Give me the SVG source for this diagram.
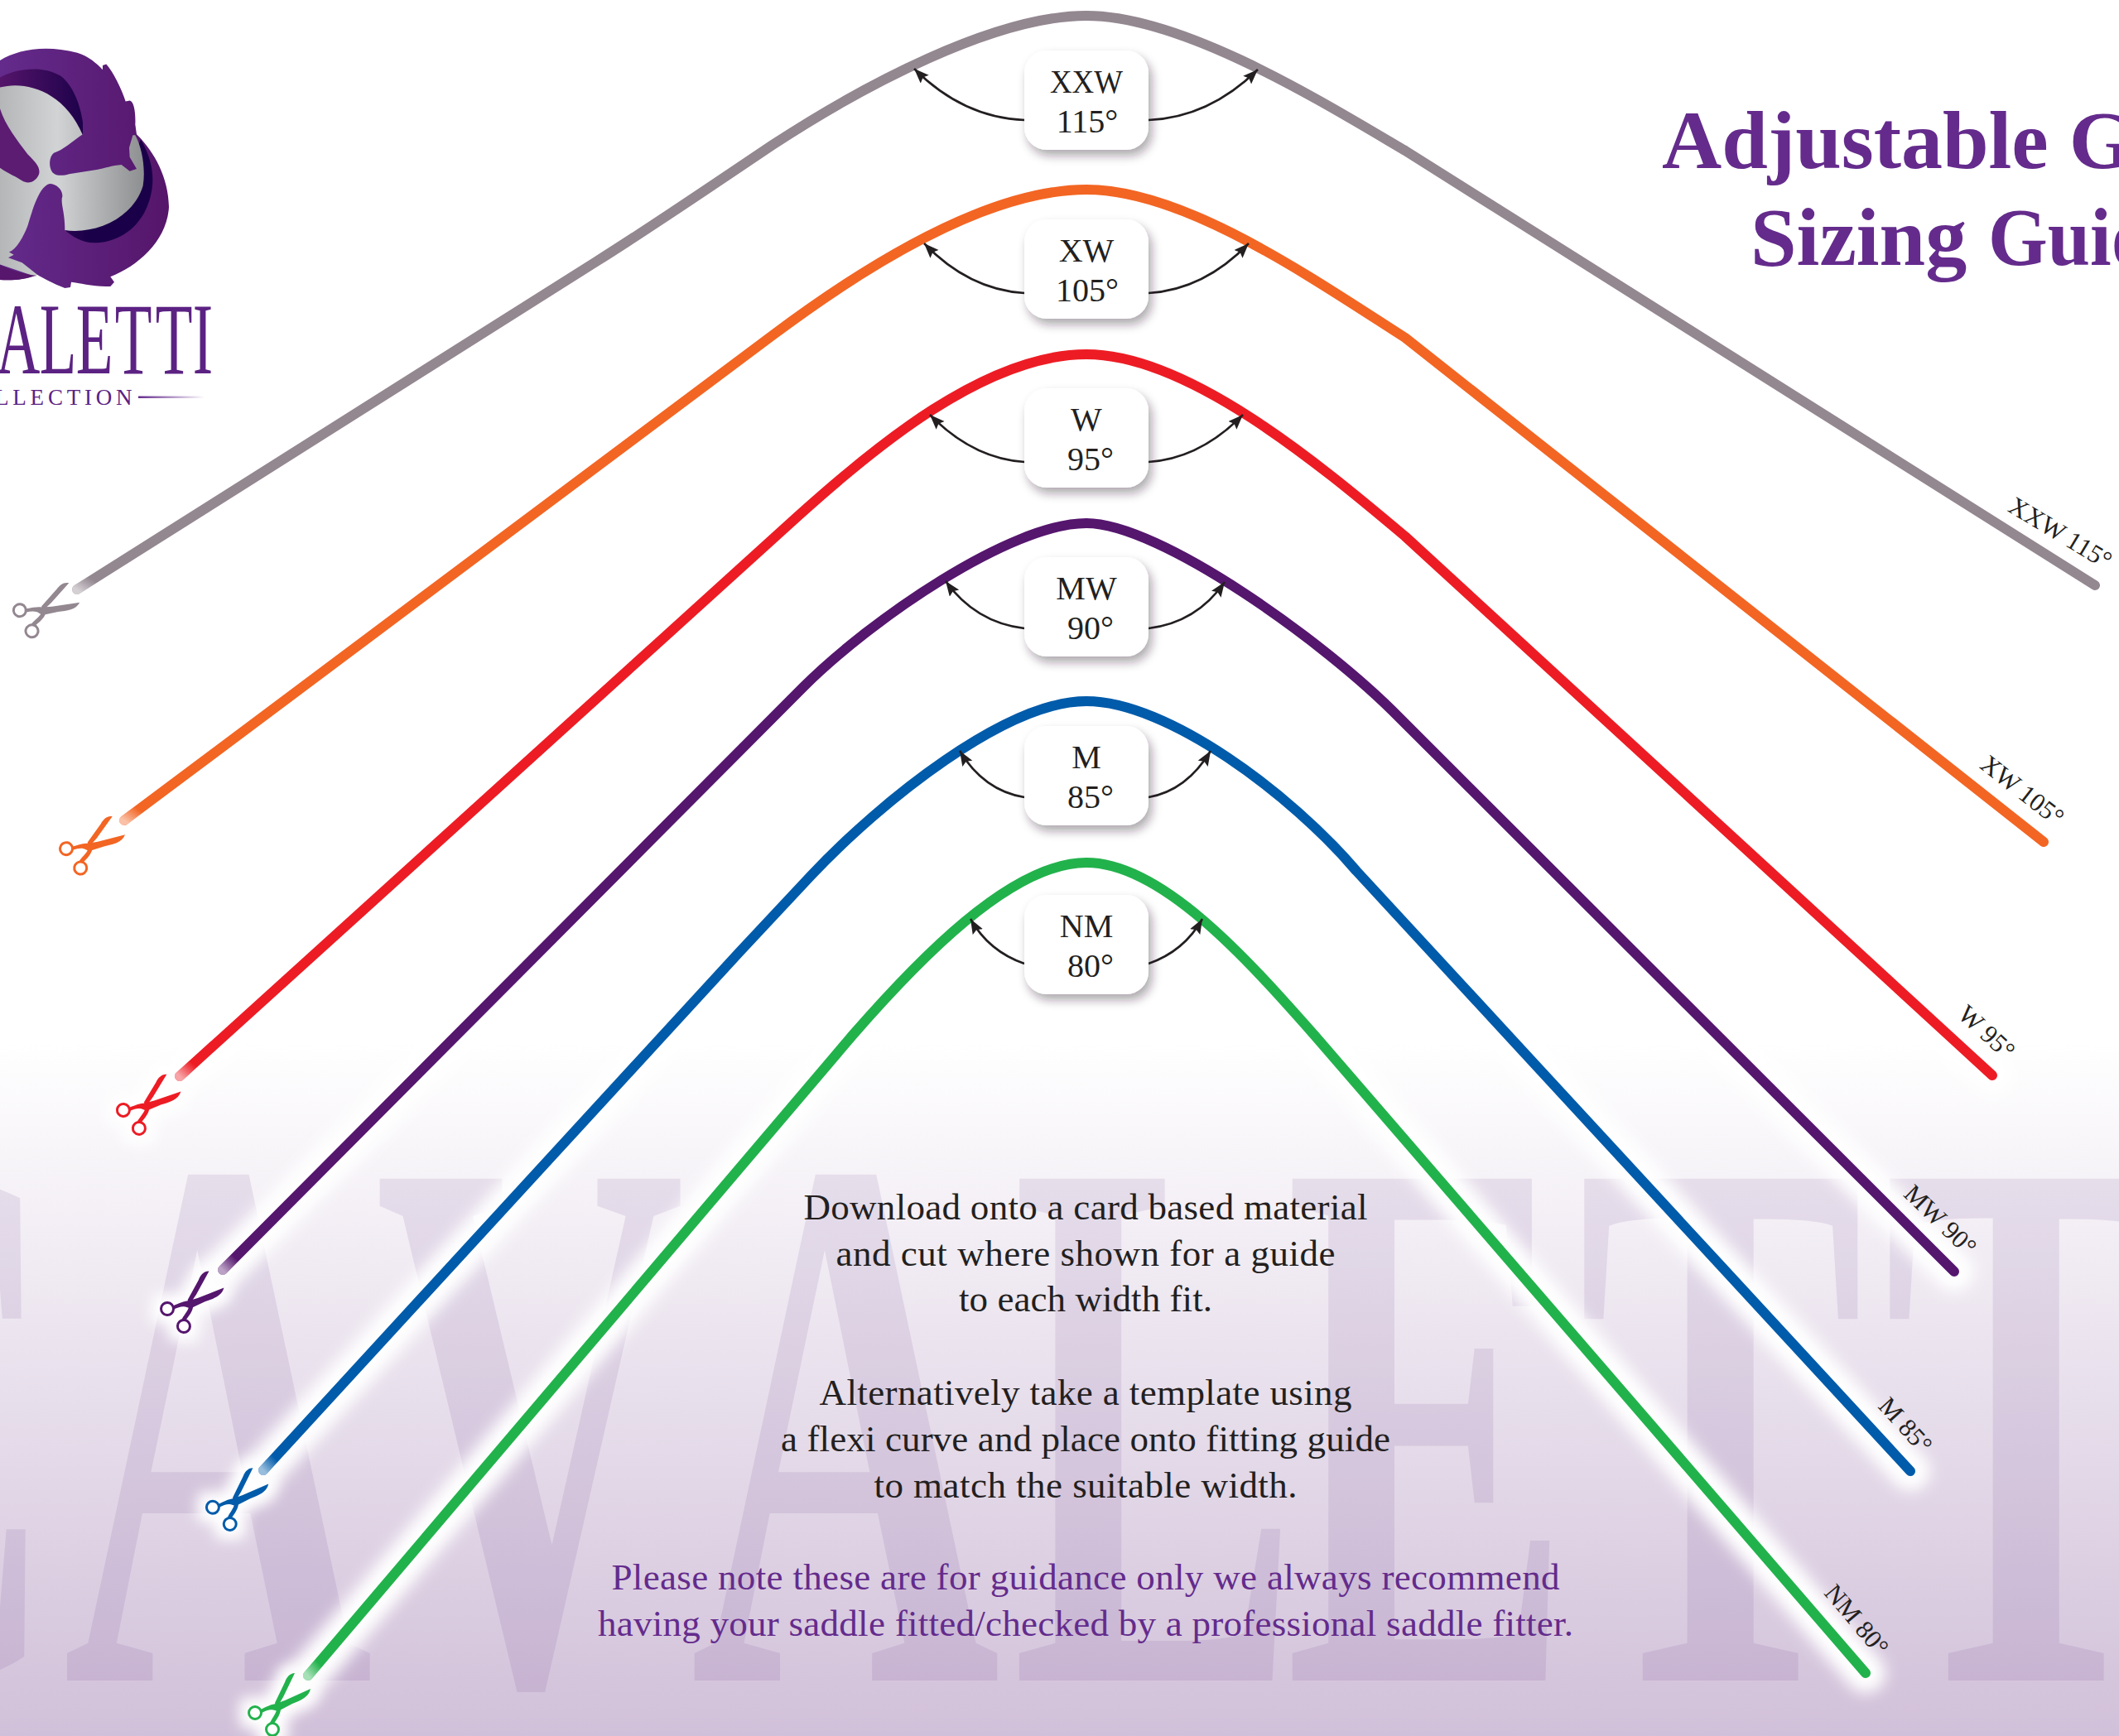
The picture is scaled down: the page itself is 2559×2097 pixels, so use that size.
<svg xmlns="http://www.w3.org/2000/svg" xmlns:xlink="http://www.w3.org/1999/xlink" width="2559" height="2097" viewBox="0 0 2559 2097">
<style>
text{font-family:"Liberation Serif",serif}
.w{fill:none;stroke-linecap:round;stroke-linejoin:round;stroke-width:12}
.glow{fill:none;stroke:#fff;stroke-width:48;stroke-linecap:round;stroke-linejoin:round}
.arr{fill:none;stroke:#231f20;stroke-width:2.6;marker-end:url(#ah)}
.box{fill:#fff;filter:url(#sh)}
.bt{font-size:40px;fill:#231f20;text-anchor:middle}
.end{font-size:31px;fill:#231f20;text-anchor:middle}
.body{font-size:45px;fill:#231f20;text-anchor:middle}
.note{font-size:45px;fill:#642b8c;text-anchor:middle}
.title{font-size:100px;font-weight:bold;fill:#642b8c}
.lg{font-size:122px;fill:#5c2283;text-anchor:middle}
.fade{fill:none;stroke:url(#fd);stroke-width:12;stroke-linecap:round}
</style>
<defs>
<linearGradient id="bg" x1="0" y1="1260" x2="0" y2="2097" gradientUnits="userSpaceOnUse"><stop offset="0" stop-color="#fff"/><stop offset="1" stop-color="#d1c0d9"/></linearGradient>
<linearGradient id="fd" x1="0" y1="1" x2="1" y2="0"><stop offset="0" stop-color="#fff" stop-opacity=".6"/><stop offset="1" stop-color="#fff" stop-opacity="0"/></linearGradient>
<linearGradient id="lp" x1="0" y1="0" x2="612" y2="0" gradientUnits="userSpaceOnUse"><stop offset="0" stop-color="#642b8c"/><stop offset="1" stop-color="#55156a"/></linearGradient>
<linearGradient id="lg" x1="0" y1="0" x2="520" y2="0" gradientUnits="userSpaceOnUse"><stop offset="0" stop-color="#b4b6b8"/><stop offset=".4" stop-color="#d1d3d4"/><stop offset="1" stop-color="#8d8f91"/></linearGradient>
<linearGradient id="ln" x1="0" y1="0" x2="320" y2="0" gradientUnits="userSpaceOnUse"><stop offset="0" stop-color="#55156a"/><stop offset="1" stop-color="#1a0048"/></linearGradient>
<linearGradient id="lr" x1="167" y1="0" x2="247" y2="0" gradientUnits="userSpaceOnUse"><stop offset="0" stop-color="#642b8c"/><stop offset="1" stop-color="#642b8c" stop-opacity="0"/></linearGradient>
<filter id="sh" x="-20%" y="-20%" width="150%" height="150%"><feDropShadow dx="4" dy="7" stdDeviation="6" flood-color="#231f20" flood-opacity=".38"/></filter>
<filter id="blur" x="-10%" y="-10%" width="120%" height="120%"><feGaussianBlur stdDeviation="9"/></filter>
<filter id="halo" x="-60%" y="-60%" width="220%" height="220%"><feMorphology operator="dilate" radius="10"/><feGaussianBlur stdDeviation="8"/></filter>
<marker id="ah" markerUnits="userSpaceOnUse" markerWidth="20" markerHeight="16" refX="18" refY="7" orient="auto"><path d="M18,7 L0,0 L3,7 L0,14 Z" fill="#231f20"/></marker>
<g id="sc">
<path d="M21-40C15-40 11-35 9-29L-3-4L-1 3C-1 8-5 12-9 20L-5 22C0 15 4 9 4 3L1-1L7-11Z"/>
<path d="M40-21L9-7L-2-3C-8-2-12 0-20 4L-19 8C-13 5-8 3-3 5L1 6L18-3C28-7 38-11 40-21Z"/>
<circle cx="-27" cy="8" r="7.5" fill="none" stroke="currentColor" stroke-width="3"/>
<circle cx="-6" cy="28" r="7.5" fill="none" stroke="currentColor" stroke-width="3"/>
</g>
<path id="c1" d="M93,712L720,316C790,272 860,224 933,175C1040,105 1200,19 1312,19C1430,19 1600,125 1697,182L2530,707"/>
<path id="c2" d="M150,991L933,405C1040,325 1190,229 1312,229C1430,229 1580,333 1697,408L2468,1017"/>
<path id="c3" d="M217,1300L813,760L963,624C1055,541 1190,428 1312,428C1434,428 1590,558 1697,648L2406,1299"/>
<path id="c4" d="M269,1534L970,830C1050,750 1220,632 1312,632C1400,632 1600,775 1690,867L2360,1536"/>
<path id="c5" d="M318,1776L893,1150L980,1057C1065,967 1215,847 1312,847C1410,847 1560,960 1638,1052L2307,1777"/>
<path id="c6" d="M372,2024L1030,1250C1106,1163 1220,1042 1312,1042C1404,1042 1510,1163 1587,1250L2253,2021"/>
</defs>

<rect id="background" width="2559" height="2097" fill="url(#bg)"/>
<text id="watermark" transform="scale(.56,1)" y="2030" font-size="926" font-weight="bold" fill="#5c2a7e" fill-opacity=".1" text-anchor="middle" x="-209 470 1143 1823 2491 3080 3711 4370 4910">CAVALETTI</text>

<g id="glows">
<g filter="url(#blur)">
<use xlink:href="#c3" class="glow"/><use xlink:href="#c4" class="glow"/><use xlink:href="#c5" class="glow"/><use xlink:href="#c6" class="glow"/>
</g>
<use xlink:href="#sc" transform="translate(176.6,1335.6) rotate(5.5)" color="#fff" fill="#fff" filter="url(#halo)"/>
<use xlink:href="#sc" transform="translate(229.4,1574.4) rotate(3)" color="#fff" fill="#fff" filter="url(#halo)"/>
<use xlink:href="#sc" transform="translate(284,1813) rotate(.6)" color="#fff" fill="#fff" filter="url(#halo)"/>
<use xlink:href="#sc" transform="translate(335,2061)" color="#fff" fill="#fff" filter="url(#halo)"/>
</g>

<g id="logo">
<g transform="scale(.33333,.5102)">
<path fill="url(#lp)" d="M-5,145C60,118 160,105 280,125C320,133 350,150 372,165L372,155L385,152C410,170 440,210 455,240L470,238C485,240 492,265 490,295L495,318C560,360 610,420 612,490C605,570 500,630 400,655L414,668L400,678C340,680 290,670 258,668L255,680L235,682C190,670 160,660 135,650C90,662 40,665 -5,662Z"/>
<path fill="url(#ln)" d="M-5,185C60,160 160,155 220,180C270,205 300,260 305,320L-5,320ZM510,330C545,370 560,410 550,450C530,530 440,575 340,575C300,575 260,560 235,545L400,500Z"/>
<path fill="url(#lg)" d="M-5,208C80,190 230,210 300,320L490,320C515,350 528,400 518,440C480,520 340,555 235,545L130,655L-5,625Z"/>
<path fill="url(#lp)" d="M300,318C260,335 230,355 195,362C178,370 175,395 190,408C205,418 230,416 250,412L350,402C380,398 405,392 440,390L470,405L495,400L470,372L468,350L490,300L400,200L300,200Z"/>
<path fill="#5c1c72" d="M-5,245C10,290 60,330 100,365C130,385 145,395 142,410C135,428 105,438 80,428C60,418 30,412 -5,395Z"/>
<path fill="url(#lp)" d="M180,435C205,435 228,450 226,465C218,480 235,500 235,545L258,668L135,650L80,622L30,610L50,603L33,597C60,590 85,560 100,535C120,490 145,440 180,435Z"/>
<path fill="#57176c" d="M-5,625C40,640 90,650 130,652C90,662 40,665 -5,662Z"/>
</g>
<text class="lg" transform="translate(22,451) scale(.6,1)">A</text>
<text class="lg" transform="translate(70,451) scale(.6,1)">L</text>
<text class="lg" transform="translate(114,451) scale(.6,1)">E</text>
<text class="lg" transform="translate(161,451) scale(.6,1)">T</text>
<text class="lg" transform="translate(210,451) scale(.6,1)">T</text>
<text class="lg" transform="translate(245,451) scale(.6,1)">I</text>
<text x="-6" y="489" font-size="27" fill="#5c2283" letter-spacing="4.8">LLECTION</text>
<rect x="167" y="478.500" width="80" height="2.500" fill="url(#lr)"/>
</g>

<g id="title">
<text class="title" x="2007" y="203">Adjustable G</text>
<text class="title" x="2114" y="320">Sizing</text>
<text class="title" x="2401" y="320" textLength="200" lengthAdjust="spacingAndGlyphs">Guid</text>
</g>

<g id="connectors">
<g class="w">
<use xlink:href="#c1" stroke="#938790"/>
<use xlink:href="#c2" stroke="#f36523"/>
<use xlink:href="#c3" stroke="#ed1c24"/>
<use xlink:href="#c4" stroke="#55166e"/>
<use xlink:href="#c5" stroke="#005baa"/>
<use xlink:href="#c6" stroke="#22b24c"/>
</g>
<path class="fade" d="M93,712L112,700"/>
<path class="fade" d="M150,991L168,978"/>
<path class="fade" d="M217,1300L233,1285"/>
<path class="fade" d="M269,1534L284,1519"/>
<path class="fade" d="M318,1776L332,1761"/>
<path class="fade" d="M372,2024L385,2009"/>
<path class="arr" d="M1237,145Q1163,142 1104,83"/>
<path class="arr" d="M1387,145Q1460,142 1519,84"/>
<path class="arr" d="M1237,354Q1170,350 1116,294"/>
<path class="arr" d="M1387,354Q1454,350 1508,294"/>
<path class="arr" d="M1237,558Q1175,554 1123,501"/>
<path class="arr" d="M1387,558Q1449,554 1501,501"/>
<path class="arr" d="M1237,759Q1178,752 1142,702"/>
<path class="arr" d="M1387,759Q1445,752 1479,703"/>
<path class="arr" d="M1237,963Q1188,955 1159,907"/>
<path class="arr" d="M1387,963Q1433,955 1462,907"/>
<path class="arr" d="M1237,1164Q1194,1149 1172,1110"/>
<path class="arr" d="M1387,1164Q1430,1149 1452,1110"/>
</g>

<g id="scissors">
<use id="sc-xxw" xlink:href="#sc" transform="translate(52,737) rotate(16)" color="#938790" fill="#938790"/>
<use id="sc-xw" xlink:href="#sc" transform="translate(108,1022) rotate(10)" color="#f36523" fill="#f36523"/>
<use id="sc-w" xlink:href="#sc" transform="translate(176.6,1335.6) rotate(5.5)" color="#ed1c24" fill="#ed1c24"/>
<use id="sc-mw" xlink:href="#sc" transform="translate(229.4,1574.4) rotate(3)" color="#55166e" fill="#55166e"/>
<use id="sc-m" xlink:href="#sc" transform="translate(284,1813) rotate(.6)" color="#005baa" fill="#005baa"/>
<use id="sc-nm" xlink:href="#sc" transform="translate(335,2061)" color="#22b24c" fill="#22b24c"/>
</g>

<g id="node-xxw"><rect class="box" x="1237" y="61" width="150" height="120" rx="27"/><text class="bt" x="1312" y="112" textLength="88" lengthAdjust="spacingAndGlyphs">XXW</text><text class="bt" x="1313" y="160">115°</text></g>
<g id="node-xw"><rect class="box" x="1237" y="265" width="150" height="120" rx="27"/><text class="bt" x="1312" y="316">XW</text><text class="bt" x="1313" y="364">105°</text></g>
<g id="node-w"><rect class="box" x="1237" y="469" width="150" height="120" rx="27"/><text class="bt" x="1312" y="520">W</text><text class="bt" x="1317" y="568">95°</text></g>
<g id="node-mw"><rect class="box" x="1237" y="673" width="150" height="120" rx="27"/><text class="bt" x="1312" y="724">MW</text><text class="bt" x="1317" y="772">90°</text></g>
<g id="node-m"><rect class="box" x="1237" y="877" width="150" height="120" rx="27"/><text class="bt" x="1312" y="928">M</text><text class="bt" x="1317" y="976">85°</text></g>
<g id="node-nm"><rect class="box" x="1237" y="1081" width="150" height="120" rx="27"/><text class="bt" x="1312" y="1132">NM</text><text class="bt" x="1317" y="1180">80°</text></g>

<g id="end-labels">
<text class="end" transform="translate(2488,644) rotate(31)" y="10">XXW 115°</text>
<text class="end" transform="translate(2442,955) rotate(38)" y="10">XW 105°</text>
<text class="end" transform="translate(2399,1247) rotate(42.5)" y="10">W 95°</text>
<text class="end" transform="translate(2343,1474) rotate(44)" y="10">MW 90°</text>
<text class="end" transform="translate(2301,1722) rotate(47.7)" y="10">M 85°</text>
<text class="end" transform="translate(2242,1957) rotate(50)" y="10">NM 80°</text>
</g>

<g id="notes">
<text class="body" x="1311" y="1473" textLength="681">Download onto a card based material</text>
<text class="body" x="1311" y="1529" textLength="603">and cut where shown for a guide</text>
<text class="body" x="1311" y="1584" textLength="306">to each width fit.</text>
<text class="body" x="1311" y="1697" textLength="643">Alternatively take a template using</text>
<text class="body" x="1311" y="1753" textLength="736">a flexi curve and place onto fitting guide</text>
<text class="body" x="1311" y="1809" textLength="511">to match the suitable width.</text>
<text class="note" x="1311" y="1920" textLength="1145">Please note these are for guidance only we always recommend</text>
<text class="note" x="1311" y="1976" textLength="1178">having your saddle fitted/checked by a professional saddle fitter.</text>
</g>
</svg>
